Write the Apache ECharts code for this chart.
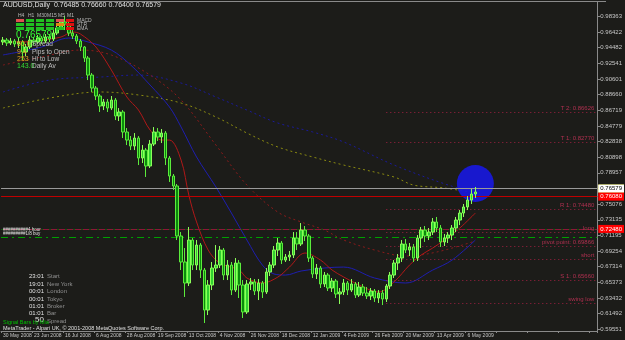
<!DOCTYPE html>
<html>
<head>
<meta charset="UTF-8">
<title>AUDUSD Daily</title>
<script src="https://cdn.jsdelivr.net/npm/echarts@6/dist/echarts.min.js"></script>
</head>
<body style="margin:0;background:#1c1c19">
<div id="chart" style="width:625px;height:340px"></div>
<script>
// date labels, one every 8 two-day bars
var dateLabels = ['30 May 2008', '23 Jun 2008', '16 Jul 2008', '6 Aug 2008', '28 Aug 2008', '19 Sep 2008',
    '13 Oct 2008', '4 Nov 2008', '26 Nov 2008', '18 Dec 2008', '12 Jan 2009', '4 Feb 2009',
    '26 Feb 2009', '20 Mar 2009', '13 Apr 2009', '6 May 2009'];
var yTicks = [0.98363, 0.96422, 0.94482, 0.92541, 0.90601, 0.88660, 0.86719, 0.84779, 0.82838, 0.80898,
    0.78957, 0.77016, 0.75076, 0.73135, 0.71195, 0.69254, 0.67314, 0.65373, 0.63432, 0.61492, 0.59551];

var opens = [0.9518,0.9542,0.9505,0.9530,0.9493,0.9518,0.9394,0.9456,0.9542,0.9518,
    0.9567,0.9530,0.9580,0.9555,0.9629,0.9691,0.9766,0.9741,0.9629,0.9592,
    0.9530,0.9456,0.9319,0.9108,0.8947,0.8848,0.8724,0.8774,0.8699,0.8798,
    0.8600,0.8650,0.8402,0.8302,0.8228,0.8327,0.8079,0.8178,0.7980,0.8253,
    0.8402,0.8340,0.8389,0.8079,0.7856,0.7732,0.7112,0.6790,0.6529,0.7062,
    0.6752,0.7000,0.6690,0.6194,0.6504,0.6715,0.6752,0.6938,0.6628,0.6752,
    0.6442,0.6777,0.6504,0.6170,0.6517,0.6542,0.6430,0.6529,0.6418,0.6666,
    0.6752,0.6938,0.7025,0.6814,0.6852,0.6876,0.7087,0.7013,0.7186,0.7112,
    0.6839,0.6641,0.6715,0.6517,0.6628,0.6467,0.6554,0.6393,0.6418,0.6529,
    0.6442,0.6517,0.6380,0.6480,0.6405,0.6368,0.6430,0.6343,0.6405,0.6331,
    0.6492,0.6628,0.6777,0.6839,0.7013,0.6938,0.6976,0.6839,0.7087,0.7186,
    0.7112,0.7161,0.7286,0.7211,0.7038,0.7087,0.7124,0.7211,0.7310,0.7397,
    0.7472,0.7558,0.7633];
var closes = [0.9542,0.9505,0.9530,0.9493,0.9518,0.9394,0.9456,0.9542,0.9518,0.9567,
    0.9530,0.9580,0.9555,0.9629,0.9691,0.9766,0.9741,0.9629,0.9592,0.9530,
    0.9456,0.9319,0.9108,0.8947,0.8848,0.8724,0.8774,0.8699,0.8798,0.8600,
    0.8650,0.8402,0.8302,0.8228,0.8327,0.8079,0.8178,0.7980,0.8253,0.8402,
    0.8340,0.8389,0.8079,0.7856,0.7732,0.7112,0.6790,0.6529,0.7062,0.6752,
    0.7000,0.6690,0.6194,0.6504,0.6715,0.6752,0.6938,0.6628,0.6752,0.6442,
    0.6777,0.6504,0.6170,0.6517,0.6542,0.6430,0.6529,0.6418,0.6666,0.6752,
    0.6938,0.7025,0.6814,0.6852,0.6876,0.7087,0.7013,0.7186,0.7112,0.6839,
    0.6641,0.6715,0.6517,0.6628,0.6467,0.6554,0.6393,0.6418,0.6529,0.6442,
    0.6517,0.6380,0.6480,0.6405,0.6368,0.6430,0.6343,0.6405,0.6331,0.6492,
    0.6628,0.6777,0.6839,0.7013,0.6938,0.6976,0.6839,0.7087,0.7186,0.7112,
    0.7161,0.7286,0.7211,0.7038,0.7087,0.7124,0.7211,0.7310,0.7397,0.7472,
    0.7558,0.7633,0.7658];
var lows = [0.9480,0.9468,0.9480,0.9456,0.9443,0.9294,0.9344,0.9431,0.9480,0.9493,
    0.9493,0.9505,0.9518,0.9530,0.9604,0.9666,0.9666,0.9592,0.9555,0.9493,
    0.9406,0.9270,0.9046,0.8898,0.8798,0.8650,0.8674,0.8650,0.8674,0.8550,
    0.8538,0.8327,0.8240,0.8178,0.8178,0.7992,0.8017,0.7844,0.7955,0.8228,
    0.8290,0.8265,0.7992,0.7782,0.7682,0.7062,0.6690,0.6356,0.6492,0.6690,
    0.6690,0.6591,0.6033,0.6132,0.6442,0.6666,0.6715,0.6566,0.6566,0.6380,
    0.6418,0.6343,0.6095,0.6145,0.6442,0.6380,0.6318,0.6343,0.6393,0.6616,
    0.6715,0.6864,0.6765,0.6790,0.6802,0.6839,0.6938,0.6988,0.7050,0.6790,
    0.6591,0.6579,0.6467,0.6480,0.6430,0.6418,0.6343,0.6269,0.6380,0.6380,
    0.6418,0.6343,0.6356,0.6368,0.6331,0.6318,0.6294,0.6281,0.6256,0.6294,
    0.6455,0.6591,0.6690,0.6790,0.6901,0.6864,0.6790,0.6802,0.6963,0.7038,
    0.7062,0.7124,0.7161,0.6976,0.6988,0.7025,0.7062,0.7161,0.7248,0.7348,
    0.7434,0.7509,0.7583];
var highs = [0.9580,0.9567,0.9567,0.9555,0.9567,0.9542,0.9493,0.9592,0.9580,0.9604,
    0.9592,0.9617,0.9617,0.9666,0.9728,0.9803,0.9840,0.9778,0.9666,0.9617,
    0.9555,0.9468,0.9344,0.9133,0.8972,0.8873,0.8811,0.8811,0.8848,0.8823,
    0.8699,0.8674,0.8451,0.8352,0.8389,0.8352,0.8240,0.8203,0.8302,0.8463,
    0.8451,0.8439,0.8414,0.8104,0.7881,0.7757,0.7161,0.6963,0.7224,0.7087,
    0.7062,0.7025,0.6715,0.6566,0.6790,0.7000,0.6988,0.6963,0.6814,0.6790,
    0.6839,0.6814,0.6566,0.6566,0.6591,0.6579,0.6579,0.6554,0.6715,0.6790,
    0.6988,0.7087,0.7050,0.6889,0.6926,0.7161,0.7161,0.7273,0.7236,0.7137,
    0.6864,0.6765,0.6740,0.6666,0.6653,0.6591,0.6579,0.6467,0.6579,0.6554,
    0.6579,0.6542,0.6542,0.6517,0.6480,0.6467,0.6455,0.6442,0.6442,0.6517,
    0.6666,0.6814,0.6889,0.7062,0.7075,0.7025,0.7013,0.7124,0.7224,0.7236,
    0.7211,0.7335,0.7348,0.7248,0.7137,0.7161,0.7248,0.7348,0.7434,0.7509,
    0.7608,0.7695,0.7720];

// moving averages, [bar, price] read at intervals
var maRed = [[0,0.9518],[5,0.9518],[10,0.9542],[15,0.9580],[18,0.9642],[20,0.9617],[24,0.9456],[28,0.9170],
    [32,0.8836],[35,0.8674],[38,0.8426],[41,0.8302],[43,0.8302],[46,0.8054],[48,0.7620],[50,0.7286],[53,0.6938],
    [56,0.6777],[61,0.6690],[63,0.6591],[67,0.6529],[71,0.6603],[74,0.6727],[78,0.6901],[82,0.6814],[85,0.6690],
    [88,0.6604],[92,0.6504],[97,0.6418],[101,0.6542],[105,0.6752],[108,0.6876],[111,0.6963],[114,0.7062],
    [118,0.7211],[122,0.7397]];
var maBlue = [[0,0.9357],[10,0.9456],[17,0.9567],[22,0.9518],[28,0.9418],[33,0.9232],[38,0.8984],[43,0.8712],
    [46,0.8464],[50,0.8092],[55,0.7720],[59,0.7397],[63,0.7062],[67,0.6752],[70,0.6641],[73,0.6628],[77,0.6678],
    [83,0.6715],[88,0.6727],[96,0.6591],[104,0.6529],[111,0.6690],[116,0.6814],[122,0.7062]];
var maRedSlow = [[0,0.9232],[10,0.9332],[20,0.9418],[28,0.9356],[38,0.9108],[46,0.8798],[55,0.8240],[63,0.7744],
    [71,0.7408],[77,0.7286],[83,0.7186],[88,0.7062],[96,0.6938],[104,0.6864],[112,0.6913],[122,0.7050]];
var maNavySlow = [[0,0.8898],[12,0.9046],[25,0.9083],[35,0.9108],[46,0.9009],[55,0.8836],[63,0.8674],[71,0.8513],
    [80,0.8402],[88,0.8278],[101,0.7992],[115,0.7744],[122,0.7658]];
var maOlive = [[0,0.8699],[12,0.8823],[25,0.8898],[35,0.8861],[46,0.8761],[55,0.8588],[63,0.8389],[71,0.8216],
    [80,0.8092],[88,0.7992],[101,0.7844],[106,0.7744],[114,0.7707],[122,0.7645]];
var circleAt = [[122, 0.7763]];

// horizontal levels
var priceTags = [
    { value: 0.7732, tag: '0.77320', line: '#8a8a00', bg: '#ffff00', fg: '#000' },
    { value: 0.7658, tag: '0.76579', line: '#9a9a9a', bg: '#ffffff', fg: '#000' },
    { value: 0.7608, tag: '0.76080', line: '#c00000', bg: '#ff0000', fg: '#fff' },
    { value: 0.7248, tag: '0.72480', line: '#8c1838', bg: '#ff0000', fg: '#fff' }
];
var targetLevels = [0.8650, 0.8276, 0.7445, 0.7161, 0.6988, 0.6826, 0.6566, 0.6281];
var targetNames = ['T 2: 0.86626', 'T 1: 0.82770', 'R 1: 0.74480', 'long', 'pivot point: 0.69866', 'short', 'S 1: 0.65660', 'swing low'];
var pivotLine = 0.7112;
var pivotDots = 0.7161;

var nCats = 154;
var cats = [];
for (var i = 0; i < nCats; i++) cats.push(i);
var bars = opens.map(function (o, i) { return [o, closes[i], lows[i], highs[i]]; });

var font = '"Liberation Sans", Arial, sans-serif';

var marks = [];
priceTags.forEach(function (p) {
    marks.push({
        yAxis: p.value,
        lineStyle: { color: p.line, width: 1, type: 'solid' },
        label: { show: true, position: 'end', distance: 1, formatter: p.tag, backgroundColor: p.bg, color: p.fg,
            fontSize: 6, fontFamily: font, padding: [1, 2] }
    });
});
marks.push({ yAxis: pivotDots, lineStyle: { color: '#0d5c0d', width: 1, type: [2, 6] }, label: { show: false } });
marks.push({ yAxis: pivotLine, lineStyle: { color: '#00a000', width: 1, type: [7, 4, 2, 4] }, label: { show: false } });
marks.push({ yAxis: 0.7732, lineStyle: { opacity: 0 },
    label: { show: true, position: 'insideEndTop', formatter: 'swing high', color: '#b03050', fontSize: 6, fontFamily: font, distance: 1 } });
targetLevels.forEach(function (v, k) {
    marks.push([
        { coord: [99, v], lineStyle: { color: '#a02040', width: 1, type: [1, 3] },
          label: { show: true, position: 'insideEndTop', formatter: targetNames[k], color: '#b03050', fontSize: 6, fontFamily: font, distance: 1 } },
        { coord: [153, v] }
    ]);
});

function maSeries(data, color, type, z) {
    return { type: 'line', data: data, smooth: 0.35, symbol: 'none', silent: true, z: z,
        lineStyle: { color: color, width: 1, type: type } };
}

var chart = echarts.init(document.getElementById('chart'));
var texts = [
    ['AUDUSD,Daily  0.76485 0.76660 0.76400 0.76579', 3, 2, '#e0e0e0', 7, 'left'],
    ['H4', 18, 13, '#bbbbbb', 5, 'left'], ['H1', 28, 13, '#bbbbbb', 5, 'left'], ['M30', 37, 13, '#bbbbbb', 5, 'left'],
    ['M15', 47, 13, '#bbbbbb', 5, 'left'], ['M5', 58, 13, '#bbbbbb', 5, 'left'], ['M1', 67, 13, '#bbbbbb', 5, 'left'],
    ['MACD', 77, 18, '#bbbbbb', 5, 'left'], ['STR', 77, 22, '#bbbbbb', 5, 'left'], ['EMA', 77, 26, '#bbbbbb', 5, 'left'],
    ['0.76579', 16, 30, '#33ff33', 10, 'left'],
    ['50.0', 17, 41, '#e0a020', 7, 'left'], ['Spread', 32, 41, '#c0c0c0', 6.5, 'left'],
    ['9.4', 17, 49, '#e0a020', 7, 'left'], ['Pips to Open', 32, 49, '#c0c0c0', 6.5, 'left'],
    ['253', 17, 56, '#e0a020', 7, 'left'], ['Hi to Low', 32, 56, '#c0c0c0', 6.5, 'left'],
    ['143.0', 17, 63, '#33dd33', 7, 'left'], ['Daily Av', 32, 63, '#c0c0c0', 6.5, 'left'],
    ['##########4 hour', 3, 227, '#e0e0e0', 4.5, 'left'], ['#########1/8 buy', 3, 231, '#e0e0e0', 4.5, 'left'],
    ['23:01', 44, 273, '#e0e0e0', 6, 'right'], ['Start', 47, 273, '#909090', 6, 'left'],
    ['19:01', 44, 281, '#e0e0e0', 6, 'right'], ['New York', 47, 281, '#909090', 6, 'left'],
    ['00:01', 44, 288, '#e0e0e0', 6, 'right'], ['London', 47, 288, '#909090', 6, 'left'],
    ['00:01', 44, 296, '#e0e0e0', 6, 'right'], ['Tokyo', 47, 296, '#909090', 6, 'left'],
    ['01:01', 44, 303, '#e0e0e0', 6, 'right'], ['Broker', 47, 303, '#909090', 6, 'left'],
    ['01:01', 44, 310, '#e0e0e0', 6, 'right'], ['Bar', 47, 310, '#909090', 6, 'left'],
    ['50', 44, 316, '#e0e0e0', 8, 'right'], ['Spread', 47, 318, '#909090', 6, 'left'],
    ['Signal Bars by Mia', 3, 319, '#00c000', 5.5, 'left'],
    ['MetaTrader - Alpari UK, \u00a9 2001-2008 MetaQuotes Software Corp.', 3, 325, '#e0e0e0', 5.5, 'left']
];
var graphics = texts.map(function (t) {
    return { type: 'text', x: t[1], y: t[2], z: 20, silent: true,
        style: { text: t[0], fill: t[3], font: t[4] + 'px ' + font, align: t[5], verticalAlign: 'top' } };
});
// signal boxes
var boxColors = [
    ['#e05050', '#20c020', '#20c020', '#20c020', '#e05050', '#e01010'],
    ['#20c020', '#20c020', '#20c020', '#20c020', '#e08a10', '#e01010'],
    ['#20c020', '#20c020', '#20c020', '#20c020', '#20c020', '#e01010']
];
boxColors.forEach(function (row, r) {
    row.forEach(function (c, k) {
        graphics.push({ type: 'rect', z: 19, silent: true, shape: { x: 16 + k * 10, y: 19 + r * 4, width: 8, height: 3 }, style: { fill: c } });
    });
});
graphics.push({ type: 'line', z: 19, silent: true, shape: { x1: 0, y1: 1.5, x2: 606, y2: 1.5 }, style: { stroke: '#8a8a8a', lineWidth: 1 } });

chart.setOption({
    backgroundColor: '#1c1c19',
    animation: false,
    grid: { left: 0, right: 19, top: 2, bottom: 9 },
    xAxis: {
        type: 'category', data: cats, boundaryGap: true,
        axisLine: { lineStyle: { color: '#8a8a8a', width: 1 } },
        axisTick: { show: true, interval: 7, length: 2, lineStyle: { color: '#8a8a8a' } },
        axisLabel: { interval: 7, align: 'left', margin: 2, fontSize: 5, fontFamily: font, color: '#c8c8c8',
            showMinLabel: true, hideOverlap: false,
            formatter: function (v, idx) { return dateLabels[idx / 8] || ''; } },
        splitLine: { show: false }
    },
    yAxis: {
        type: 'value', position: 'right', min: 0.5934, max: 1.0014, scale: true,
        axisLine: { show: true, lineStyle: { color: '#8a8a8a' } },
        axisTick: { show: true, customValues: yTicks, length: 3, inside: false, lineStyle: { color: '#8a8a8a' } },
        axisLabel: { customValues: yTicks, margin: 3, fontSize: 6, fontFamily: font, color: '#c8c8c8',
            formatter: function (v) { return v.toFixed(5); } },
        splitLine: { show: false }
    },
    series: [
        maSeries(maOlive, '#8a8a10', [2, 3], 2),
        maSeries(maNavySlow, '#1a1a9a', [2, 3], 2),
        maSeries(maRedSlow, '#8c1a1a', [2, 3], 2),
        maSeries(maBlue, '#1e1eb0', 'solid', 2),
        maSeries(maRed, '#b01818', 'solid', 2),
        { type: 'scatter', data: circleAt, symbolSize: 37, silent: true, z: 3,
          itemStyle: { color: '#1818d8', opacity: 0.95 } },
        { type: 'line', data: [], z: 4, silent: true,
          markLine: { symbol: ['none', 'none'], silent: true, animation: false, data: marks } },
        { type: 'candlestick', data: bars, barWidth: 3, z: 5, silent: true,
          itemStyle: { color: '#30d030', color0: '#0a8a0a', borderColor: '#8cff5a', borderColor0: '#5cec3c', borderWidth: 1 } }
    ],
    graphic: graphics
});
</script>
</body>
</html>
